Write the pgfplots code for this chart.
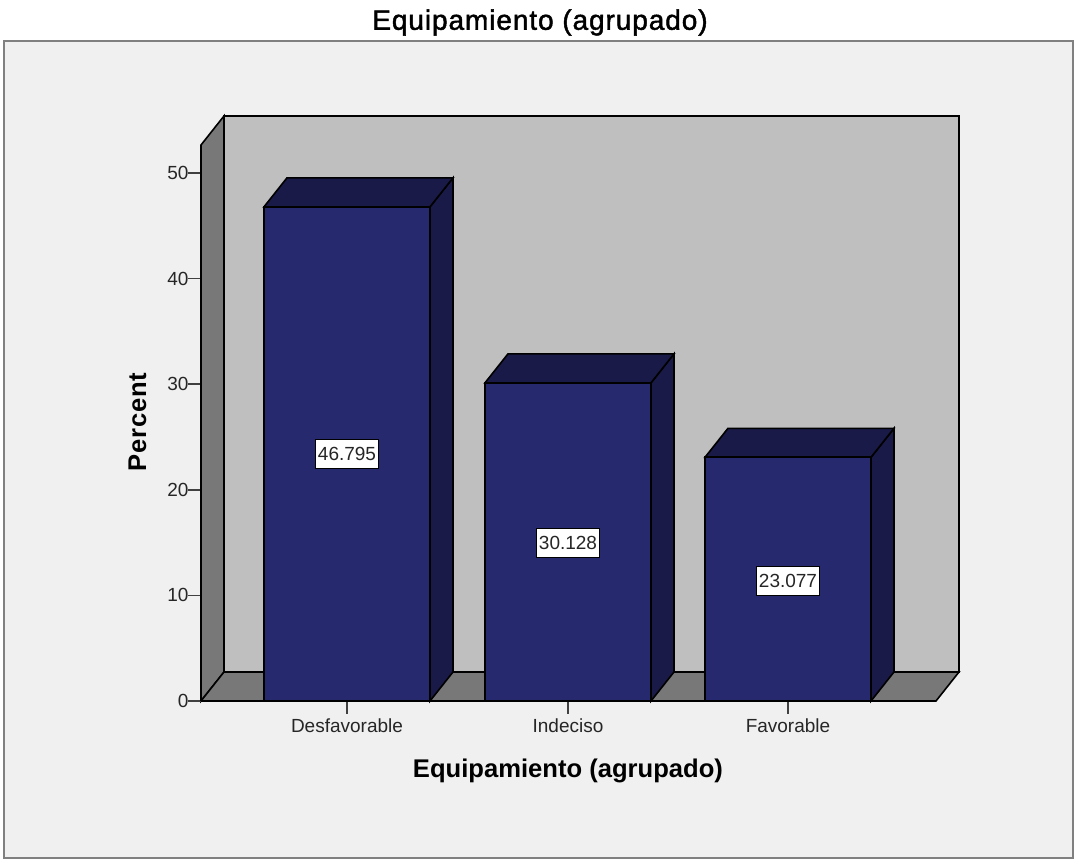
\documentclass[border=0pt]{standalone}
\usepackage{fontspec}
\setmainfont{Liberation Sans}
\newfontfamily\titlefont[FakeBold=1.6,LetterSpace=3.3]{Liberation Sans}
\newfontfamily\percentfont[LetterSpace=3.2,BoldFont={Liberation Sans Bold}]{Liberation Sans}
\usepackage{pgfplots}
\pgfplotsset{compat=1.18}
\definecolor{pagebg}{HTML}{F0F0F0}
\definecolor{frameg}{HTML}{808080}
\definecolor{wall}{HTML}{BFBFBF}
\definecolor{sidewall}{HTML}{787878}
\definecolor{barfront}{HTML}{27296F}
\definecolor{barside}{HTML}{191A47}
\begin{document}
\begin{tikzpicture}
\begin{axis}[
  scale only axis, width=735pt, height=556pt,
  xmin=201, xmax=936, ymin=0, ymax=52.652,
  clip=false, axis on top=true,
  axis x line=bottom, axis y line=left,
  axis line style={-, line width=1.6pt, black},
  tick align=outside, major tick length=13pt,
  tick style={line width=1.5pt, color=black!75},
  xtick={347,568,788},
  xticklabels={Desfavorable,Indeciso,Favorable},
  ytick={0,10,20,30,40,50},
  /pgf/number format/assume math mode=true,
  tick label style={font=\fontsize{19}{22}\selectfont, text=black!85},
  xticklabel style={yshift=-1pt},
  yticklabel style={xshift=4pt},
]
% page and frame
\addplot[fill=white, draw=none] coordinates {(0,-15.057) (1074,-15.057) (1074,66.383) (0,66.383)} --cycle;
\addplot[fill=pagebg, draw=frameg, line width=2pt] coordinates {(4,-14.83) (1073,-14.83) (1073,62.5) (4,62.5)} --cycle;
% walls
\addplot[fill=wall, draw=black, line width=1.6pt] coordinates {(224,2.746) (959,2.746) (959,55.398) (224,55.398)} --cycle;
\addplot[fill=sidewall, draw=black, line width=1.6pt] coordinates {(201,0) (224,2.746) (224,55.398) (201,52.652)} --cycle;
\addplot[fill=sidewall, draw=black, line width=1.6pt] coordinates {(201,0) (936,0) (959,2.746) (224,2.746)} --cycle;
% bar depth faces
\addplot[fill=barside, draw=black, line width=1.6pt] coordinates {(430,0) (453,2.746) (453,49.541) (430,46.795)} --cycle;
\addplot[fill=barside, draw=black, line width=1.6pt] coordinates {(264,46.795) (287,49.541) (453,49.541) (430,46.795)} --cycle;
\addplot[fill=barside, draw=black, line width=1.6pt] coordinates {(651,0) (674,2.746) (674,32.874) (651,30.128)} --cycle;
\addplot[fill=barside, draw=black, line width=1.6pt] coordinates {(485,30.128) (508,32.874) (674,32.874) (651,30.128)} --cycle;
\addplot[fill=barside, draw=black, line width=1.6pt] coordinates {(871,0) (894,2.746) (894,25.823) (871,23.077)} --cycle;
\addplot[fill=barside, draw=black, line width=1.6pt] coordinates {(705,23.077) (728,25.823) (894,25.823) (871,23.077)} --cycle;
% bar fronts
\addplot[ybar, bar width=166pt, bar shift=0pt, fill=barfront, draw=black, line width=1.6pt]
  coordinates {(347,46.795) (568,30.128) (788,23.077)};
% value labels
\node[fill=white, draw=black, line width=1pt, inner xsep=2.5pt, inner ysep=8pt, font=\fontsize{19}{22}\selectfont, text=black!85] at (axis cs:347,23.4) {46.795};
\node[fill=white, draw=black, line width=1pt, inner xsep=2.5pt, inner ysep=8pt, font=\fontsize{19}{22}\selectfont, text=black!85] at (axis cs:568,14.96) {30.128};
\node[fill=white, draw=black, line width=1pt, inner xsep=2.5pt, inner ysep=8pt, font=\fontsize{19}{22}\selectfont, text=black!85] at (axis cs:788,11.36) {23.077};
% titles
\node[font=\fontsize{28}{32}\selectfont\titlefont] at (axis cs:540,64.25) {Equipamiento (agrupado)};
\node[font=\fontsize{25.6}{28}\selectfont\bfseries] at (axis cs:568,-6.6) {Equipamiento (agrupado)};
\node[font=\fontsize{25.6}{28}\selectfont\percentfont\bfseries, rotate=90] at (axis cs:137.5,26.4) {Percent};
\end{axis}
\end{tikzpicture}
\end{document}
